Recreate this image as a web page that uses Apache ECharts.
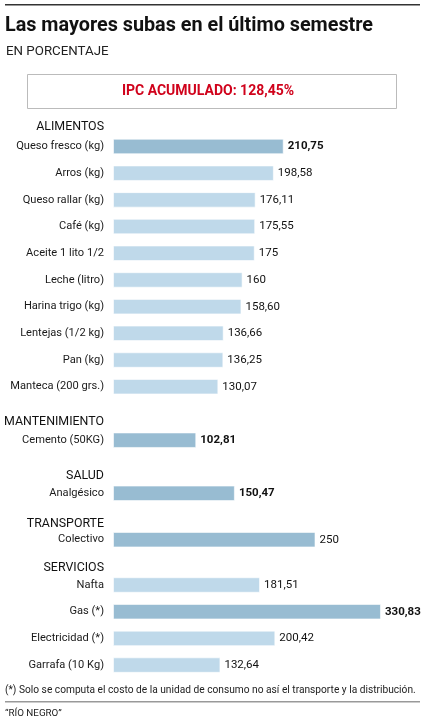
<!DOCTYPE html>
<html><head><meta charset="utf-8">
<script src="https://cdn.jsdelivr.net/npm/echarts@6/dist/echarts.min.js"></script>
<style>html,body{margin:0;padding:0;background:#fff}#c{width:430px;height:720px}</style>
</head><body><div id="c"></div>
<script>
// ---- data ----
const groupNames = ['ALIMENTOS', 'MANTENIMIENTO', 'SALUD', 'TRANSPORTE', 'SERVICIOS'];
const alimentosCats = ['Queso fresco (kg)', 'Arros (kg)', 'Queso rallar (kg)', 'Café (kg)', 'Aceite 1 lito 1/2', 'Leche (litro)', 'Harina trigo (kg)', 'Lentejas (1/2 kg)', 'Pan (kg)', 'Manteca (200 grs.)'];
const alimentosVals = [210.75, 198.58, 176.11, 175.55, 175, 160, 158.60, 136.66, 136.25, 130.07];
const mantenimientoCats = ['Cemento (50KG)'];
const mantenimientoVals = [102.81];
const saludCats = ['Analgésico'];
const saludVals = [150.47];
const transporteCats = ['Colectivo'];
const transporteVals = [250];
const serviciosCats = ['Nafta', 'Gas (*)', 'Electricidad (*)', 'Garrafa (10 Kg)'];
const serviciosVals = [181.51, 330.83, 200.42, 132.64];
const highlightBars = ['Queso fresco (kg)', 'Cemento (50KG)', 'Analgésico', 'Colectivo', 'Gas (*)'];
const boldValues = ['Queso fresco (kg)', 'Cemento (50KG)', 'Analgésico', 'Gas (*)'];
const titleText = 'Las mayores subas en el último semestre';
const subtitleText = 'EN PORCENTAJE';
const ipcText = 'IPC ACUMULADO: 128,45%';
const noteText = '(*) Solo se computa el costo de la unidad de consumo no así el transporte y la distribución.';
const sourceText = '“RÍO NEGRO”';

// ---- layout ----
const FONT = 'Roboto, "Liberation Sans", sans-serif';
const groups = [
  {cats: alimentosCats, vals: alimentosVals, firstCenter: 146.5, head: 127},
  {cats: mantenimientoCats, vals: mantenimientoVals, firstCenter: 440.2, head: 421.7},
  {cats: saludCats, vals: saludVals, firstCenter: 493.3, head: 475.5},
  {cats: transporteCats, vals: transporteVals, firstCenter: 539.7, head: 523.5},
  {cats: serviciosCats, vals: serviciosVals, firstCenter: 585, head: 568}
];
const ROW = 26.69;
const GRID_LEFT = 113, XMAX = 340, PXU = 0.81;
const DARK = '#98bcd2', LIGHT = '#bfd9ea';

function fmt(v) {
  return Number.isInteger(v) ? String(v) : v.toFixed(2).replace('.', ',');
}

const grid = [], xAxis = [], yAxis = [], series = [], graphic = [];
groups.forEach((g, i) => {
  grid.push({left: GRID_LEFT, width: XMAX * PXU, top: g.firstCenter - ROW / 2, height: ROW * g.cats.length});
  xAxis.push({type: 'value', gridIndex: i, min: 0, max: XMAX, show: false});
  yAxis.push({
    type: 'category', gridIndex: i, data: g.cats, inverse: true,
    axisLine: {show: false}, axisTick: {show: false}, splitLine: {show: false},
    axisLabel: {margin: 9, color: '#1a1a1a', fontFamily: FONT, fontSize: 11.1}
  });
  series.push({
    type: 'bar', xAxisIndex: i, yAxisIndex: i, barWidth: 15.5,
    data: g.vals.map((v, k) => ({
      value: v,
      itemStyle: {color: highlightBars.includes(g.cats[k]) ? DARK : LIGHT},
      label: {fontWeight: boldValues.includes(g.cats[k]) ? 'bold' : 'normal'}
    })),
    itemStyle: {borderColor: 'rgba(255,255,255,0.6)', borderWidth: 1},
    label: {show: true, position: 'right', distance: 4, color: '#111', fontFamily: FONT, fontSize: 11.5,
      formatter: p => fmt(p.value)},
    silent: true, animation: false
  });
  graphic.push({type: 'text', x: 104, y: g.head, style: {text: groupNames[i], textAlign: 'right', textVerticalAlign: 'middle', font: '12.4px ' + FONT, fill: '#111'}});
});

graphic.push(
  {type: 'rect', shape: {x: 5, y: 4, width: 415, height: 1.6}, style: {fill: '#333'}},
  {type: 'text', x: 5, y: 26, style: {text: titleText, textVerticalAlign: 'middle', font: 'bold 19.8px ' + FONT, fill: '#111'}},
  {type: 'text', x: 6, y: 51.5, style: {text: subtitleText, textVerticalAlign: 'middle', font: '13.3px ' + FONT, fill: '#222'}},
  {type: 'rect', shape: {x: 27.5, y: 74.5, width: 369, height: 34}, style: {fill: '#fff', stroke: '#bbb', lineWidth: 1}},
  {type: 'text', x: 208, y: 91, style: {text: ipcText, textAlign: 'center', textVerticalAlign: 'middle', font: 'bold 14px ' + FONT, fill: '#d0021b'}},
  {type: 'text', x: 5, y: 690, style: {text: noteText, textVerticalAlign: 'middle', font: '10.2px ' + FONT, fill: '#222'}},
  {type: 'rect', shape: {x: 5, y: 701, width: 415, height: 1.5}, style: {fill: '#999'}},
  {type: 'text', x: 5, y: 714, style: {text: sourceText, textVerticalAlign: 'middle', font: '9.8px ' + FONT, fill: '#222'}}
);

const chart = echarts.init(document.getElementById('c'), null, {renderer: 'canvas'});
chart.setOption({animation: false, grid, xAxis, yAxis, series, graphic});
</script></body></html>
